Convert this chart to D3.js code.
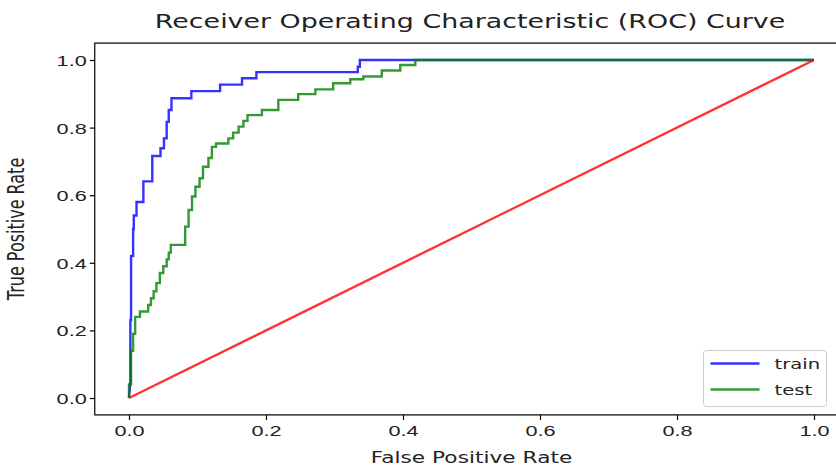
<!DOCTYPE html>
<html>
<head>
<meta charset="utf-8">
<script src="https://cdn.jsdelivr.net/npm/d3@7"></script>
<style>
  body { margin: 0; background: #fff; }
  svg { display: block; font-family: "DejaVu Sans", sans-serif; }
</style>
</head>
<body>
<div id="chart"></div>
<script>
// ROC points
var trainFpr = [0, 0.002, 0.002, 0.003, 0.003, 0.006, 0.006, 0.007, 0.007, 0.011, 0.011, 0.021, 0.021,
    0.034, 0.034, 0.046, 0.046, 0.051, 0.051, 0.055, 0.055, 0.058, 0.058, 0.062, 0.062, 0.091, 0.091,
    0.133, 0.133, 0.165, 0.165, 0.186, 0.186, 0.334, 0.334, 0.337, 0.337, 1];
var trainTpr = [0, 0.05, 0.23, 0.23, 0.42, 0.42, 0.50, 0.50, 0.54, 0.54, 0.58, 0.58, 0.641,
    0.641, 0.716, 0.716, 0.739, 0.739, 0.768, 0.768, 0.817, 0.817, 0.852, 0.852, 0.887, 0.887, 0.908,
    0.908, 0.927, 0.927, 0.946, 0.946, 0.964, 0.964, 0.98, 0.98, 1, 1];

var testFpr = [0, 0, 0.003, 0.003, 0.006, 0.006, 0.009, 0.009, 0.016, 0.016, 0.028, 0.028, 0.032, 0.032,
    0.036, 0.036, 0.040, 0.040, 0.045, 0.045, 0.050, 0.050, 0.055, 0.055, 0.058, 0.058, 0.061, 0.061,
    0.082, 0.082, 0.087, 0.087, 0.092, 0.092, 0.097, 0.097, 0.103, 0.103, 0.108, 0.108, 0.116, 0.116,
    0.121, 0.121, 0.127, 0.127, 0.145, 0.145, 0.152, 0.152, 0.160, 0.160, 0.167, 0.167, 0.173, 0.173,
    0.194, 0.194, 0.218, 0.218, 0.247, 0.247, 0.272, 0.272, 0.298, 0.298, 0.323, 0.323, 0.342, 0.342,
    0.369, 0.369, 0.396, 0.396, 0.418, 0.418, 1];
var testTpr = [0, 0.04, 0.04, 0.14, 0.14, 0.19, 0.19, 0.24, 0.24, 0.256, 0.256, 0.275, 0.275, 0.295,
    0.295, 0.316, 0.316, 0.34, 0.34, 0.37, 0.37, 0.39, 0.39, 0.41, 0.41, 0.43, 0.43, 0.453,
    0.453, 0.507, 0.507, 0.556, 0.556, 0.596, 0.596, 0.625, 0.625, 0.65, 0.65, 0.684, 0.684, 0.71,
    0.71, 0.743, 0.743, 0.753, 0.753, 0.768, 0.768, 0.785, 0.785, 0.803, 0.803, 0.82, 0.82, 0.837,
    0.837, 0.852, 0.852, 0.882, 0.882, 0.899, 0.899, 0.913, 0.913, 0.931, 0.931, 0.943, 0.943, 0.951,
    0.951, 0.969, 0.969, 0.985, 0.985, 1, 1];

var chanceFpr = [0, 1];
var chanceTpr = [0, 1];

var xTicks = [0, 0.2, 0.4, 0.6, 0.8, 1.0];
var yTicks = [0, 0.2, 0.4, 0.6, 0.8, 1.0];

var W = 836, H = 466;
var SX = 1.4; // the picture is stretched sideways, text too

var svg = d3.select("#chart").append("svg")
    .attr("width", W).attr("height", H);

var x = d3.scaleLinear().domain([-0.05, 1.05]).range([94.75, 848.25]);
var y = d3.scaleLinear().domain([-0.05, 1.05]).range([414.9, 43.1]);

function pts(fx, fy) {
    return fx.map(function (v, i) { return [v, fy[i]]; });
}

var line = d3.line()
    .x(function (d) { return x(d[0]); })
    .y(function (d) { return y(d[1]); });

var series = [
    {name: "train", data: pts(trainFpr, trainTpr), color: "#0000ff"},
    {name: "test", data: pts(testFpr, testTpr), color: "#008000"},
    {name: null, data: pts(chanceFpr, chanceTpr), color: "#ff0000"}
];

svg.selectAll("path.roc").data(series).enter().append("path")
    .attr("class", "roc")
    .attr("d", function (d) { return line(d.data); })
    .attr("fill", "none")
    .attr("stroke", function (d) { return d.color; })
    .attr("stroke-opacity", 0.8)
    .attr("stroke-width", 2.4)
    .attr("stroke-linejoin", "miter");

// axes
var xAxis = svg.append("g")
    .attr("transform", "translate(0," + y.range()[0] + ")")
    .call(d3.axisBottom(x).tickValues(xTicks).tickFormat(d3.format(".1f")).tickSize(5).tickPadding(5));
var yAxis = svg.append("g")
    .attr("transform", "translate(" + x.range()[0] + ",0)")
    .call(d3.axisLeft(y).tickValues(yTicks).tickFormat(d3.format(".1f")).tickSize(5).tickPadding(5));

[xAxis, yAxis].forEach(function (a) {
    a.select(".domain").remove();
    a.selectAll(".tick line").attr("stroke", "#000").attr("stroke-width", 1.2);
    a.selectAll(".tick text").attr("fill", "#222").style("font-size", "15.5px");
});
xAxis.selectAll(".tick text").attr("transform", "scale(" + SX + ",1)");
yAxis.selectAll(".tick text").attr("x", -8 / SX).attr("dy", "0.36em")
    .attr("transform", "scale(" + SX + ",1)");

// spines
svg.append("rect")
    .attr("x", x.range()[0]).attr("y", y.range()[1])
    .attr("width", x.range()[1] - x.range()[0])
    .attr("height", y.range()[0] - y.range()[1])
    .attr("fill", "none").attr("stroke", "#000").attr("stroke-width", 1.2);

// title and labels
svg.append("text")
    .attr("transform", "translate(470,28) scale(" + SX + ",1)")
    .attr("text-anchor", "middle").style("font-size", "19.2px").attr("fill", "#222")
    .text("Receiver Operating Characteristic (ROC) Curve");

svg.append("text")
    .attr("transform", "translate(471.5,463) scale(" + SX + ",1)")
    .attr("text-anchor", "middle").style("font-size", "15.5px").attr("fill", "#222")
    .text("False Positive Rate");

svg.append("text")
    .attr("transform", "translate(24,229) rotate(-90) scale(1," + SX + ")")
    .attr("text-anchor", "middle").style("font-size", "16px").attr("fill", "#222")
    .text("True Positive Rate");

// legend
var lg = svg.append("g").attr("transform", "translate(703.5,350.5)");
lg.append("rect")
    .attr("width", 123).attr("height", 56).attr("rx", 3)
    .attr("fill", "#fff").attr("fill-opacity", 0.8)
    .attr("stroke", "#ccc").attr("stroke-width", 1);
var items = lg.selectAll("g.item").data(series.filter(function (d) { return d.name; }))
    .enter().append("g").attr("class", "item")
    .attr("transform", function (d, i) { return "translate(0," + (13 + i * 26) + ")"; });
items.append("line")
    .attr("x1", 7).attr("x2", 56)
    .attr("stroke", function (d) { return d.color; })
    .attr("stroke-opacity", 0.8).attr("stroke-width", 2.4);
items.append("text")
    .attr("transform", "translate(71,5) scale(" + SX + ",1)")
    .style("font-size", "14px").attr("fill", "#222")
    .text(function (d) { return d.name; });
</script>
</body>
</html>
